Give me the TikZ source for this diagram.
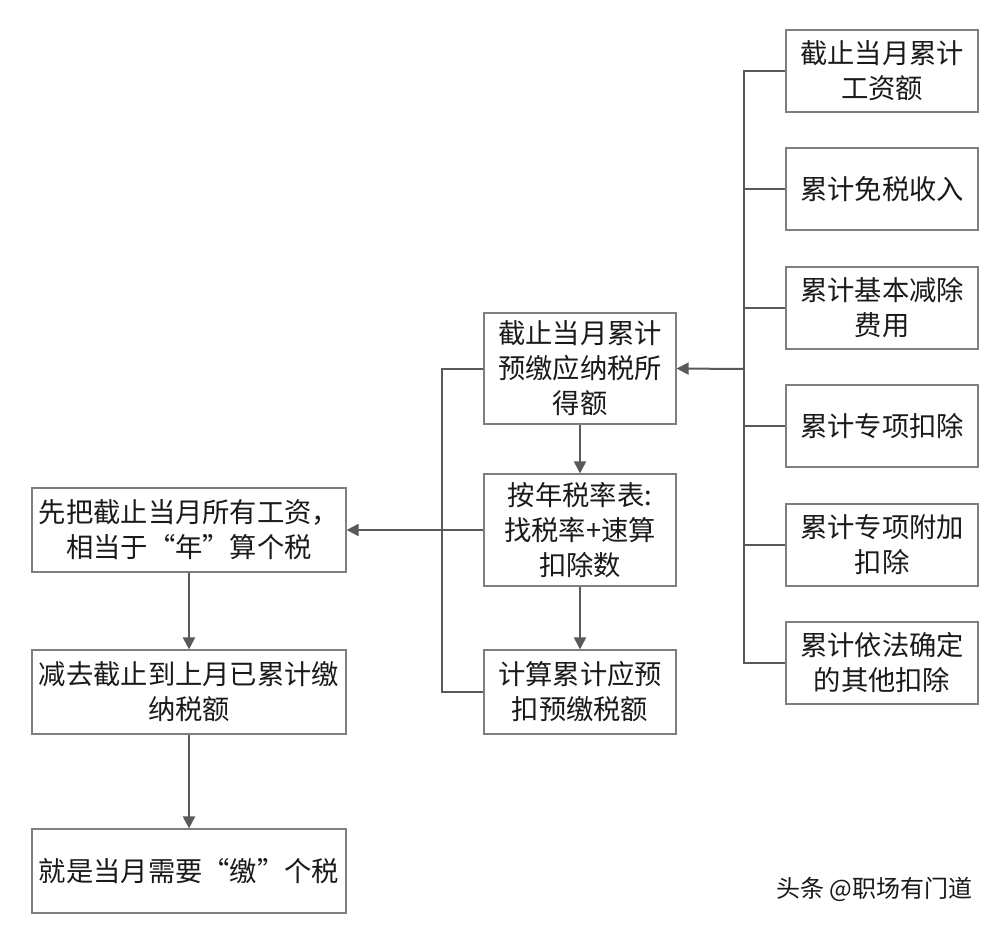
\documentclass[tikz,border=0pt]{standalone}
\usepackage{fontspec}
\setmainfont{Noto Sans CJK SC}
\usetikzlibrary{arrows.meta}
\definecolor{boxgray}{HTML}{7F7F7F}
\definecolor{linegray}{HTML}{595959}
\definecolor{textc}{HTML}{1A1A1A}
\begin{document}
\begin{tikzpicture}[x=1pt,y=-1pt,
  box/.style={draw=boxgray, line width=1.2pt, inner sep=1pt, align=center,
    font=\fontsize{27.3}{35}\selectfont, text=textc},
  rbox/.style={box, minimum width=192pt, minimum height=82pt},
  mbox/.style={box, minimum width=192pt},
  lbox/.style={box, minimum width=314pt, minimum height=84pt},
  conn/.style={draw=linegray, line width=2pt},
  arr/.style={conn, -{Triangle[length=12pt,width=12pt]}}]
\fill[white] (0,0) rectangle (996,926);
\useasboundingbox (0,0) rectangle (996,926);
% right column
\node[rbox] (r1) at (882,71) {截止当月累计\\工资额};
\node[rbox] (r2) at (882,189) {累计免税收入};
\node[rbox] (r3) at (882,308) {累计基本减除\\费用};
\node[rbox] (r4) at (882,426) {累计专项扣除};
\node[rbox] (r5) at (882,545) {累计专项附加\\扣除};
\node[rbox] (r6) at (882,663) {累计依法确定\\的其他扣除};
% middle column
\node[mbox, minimum height=111pt] (m1) at (580,368.5) {截止当月累计\\预缴应纳税所\\得额};
\node[mbox, minimum height=112pt] (m2) at (580,530) {按年税率表:\\找税率+速算\\扣除数};
\node[mbox, minimum height=84pt] (m3) at (580,692) {计算累计应预\\扣预缴税额};
% left column
\node[lbox] (l1) at (189,530) {先把截止当月所有工资，\\相当于“年”算个税};
\node[lbox] (l2) at (189,692) {减去截止到上月已累计缴\\纳税额};
\node[lbox] (l3) at (189,871) {就是当月需要“缴”个税};
% buses
\coordinate (busR) at (744,369);
\coordinate (busL) at (442,530);
\foreach \n in {r1,r2,r3,r4,r5,r6} \draw[conn] (\n.west) -| (busR);
\draw[arr] (busR) -- (m1.east);
\draw[arr] (m1.south) -- (m2.north);
\draw[arr] (m2.south) -- (m3.north);
\draw[conn] (m1.west) -| (busL);
\draw[conn] (m3.west) -| (busL);
\draw[conn] (m2.west) -- (busL);
\draw[arr] (busL) -- (l1.east);
\draw[arr] (l1.south) -- (l2.north);
\draw[arr] (l2.south) -- (l3.north);
% watermark
\node[font=\fontsize{24}{26}\selectfont, text=textc, anchor=east] (wm) at (976,889) {头条 @职场有门道};
\end{tikzpicture}
\end{document}
